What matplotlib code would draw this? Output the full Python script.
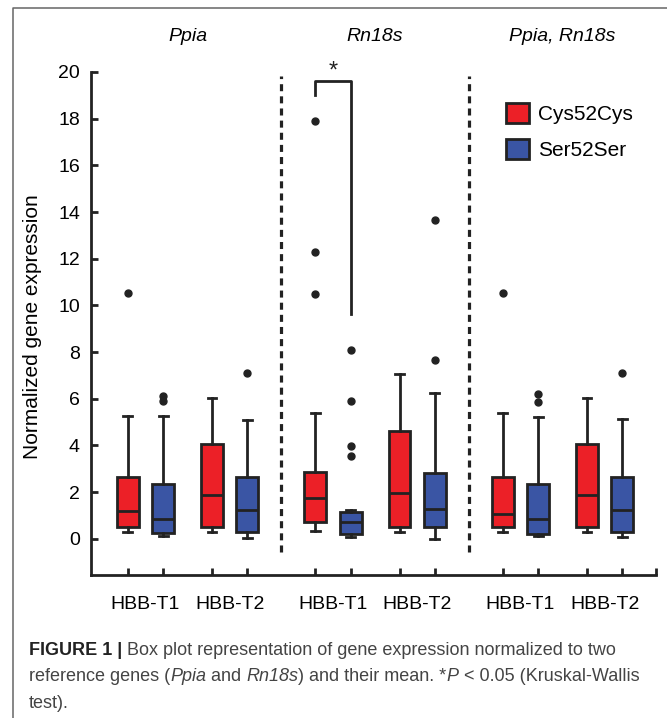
import matplotlib.pyplot as plt
import matplotlib.transforms as mtransforms
from matplotlib.patches import Patch
from matplotlib.lines import Line2D

plt.rcParams['font.family'] = 'Liberation Sans'

panels = ["Ppia", "Rn18s", "Ppia, Rn18s"]
groups = ["HBB-T1", "HBB-T2"]
genotypes = ["Cys52Cys", "Ser52Ser"]
colors = ["#EC2027", "#3A55A4"]

# one value per box, order: panel -> group -> genotype
whislo = [0.29, 0.10, 0.29, 0.04, 0.34, 0.06, 0.29, 0.00, 0.29, 0.13, 0.29, 0.06]
q1 = [0.50, 0.24, 0.50, 0.31, 0.73, 0.21, 0.50, 0.50, 0.49, 0.21, 0.49, 0.31]
med = [1.20, 0.86, 1.87, 1.24, 1.77, 0.70, 1.98, 1.28, 1.07, 0.84, 1.87, 1.24]
q3 = [2.63, 2.34, 4.07, 2.67, 2.88, 1.14, 4.64, 2.84, 2.63, 2.34, 4.07, 2.67]
whishi = [5.27, 5.27, 6.05, 5.10, 5.38, 1.24, 7.07, 6.24, 5.38, 5.21, 6.05, 5.14]
fliers = [[10.55], [6.14, 5.91], [], [7.09],
          [17.9, 12.3, 10.48], [8.11, 5.91, 3.98, 3.53], [], [13.66, 7.67],
          [10.55], [6.21, 5.85], [], [7.09]]

# significance bracket (Rn18s, HBB-T1)
sig_low, sig_top, sig_right = 19.0, 19.63, 9.63

caption = [
    [("FIGURE 1 |", "b"), (" Box plot representation of gene expression normalized to two", "n")],
    [("reference genes (", "n"), ("Ppia", "i"), (" and ", "n"), ("Rn18s", "i"),
     (") and their mean. *", "n"), ("P", "i"), (" < 0.05 (Kruskal-Wallis", "n")],
    [("test).", "n")],
]

pair_pos = [0, 1, 2.38, 3.38]
panel_step = 5.3
positions = [p * panel_step + o for p in range(3) for o in pair_pos]
x_left, x_right = -1.04, 14.93

fig = plt.figure(figsize=(6.67, 7.18), dpi=100)
ax = fig.add_axes([91 / 667, 1 - 575 / 718, 565 / 667, 503 / 718])

stats = []
for i in range(len(med)):
    stats.append(dict(whislo=whislo[i], q1=q1[i], med=med[i], q3=q3[i],
                      whishi=whishi[i], fliers=fliers[i]))

ec = "#222222"
bp = ax.bxp(stats, positions=positions, widths=0.62, capwidths=0.25,
            patch_artist=True, showfliers=True,
            boxprops=dict(linewidth=2, edgecolor=ec),
            medianprops=dict(color=ec, linewidth=2),
            whiskerprops=dict(color=ec, linewidth=2),
            capprops=dict(color=ec, linewidth=2),
            flierprops=dict(marker='o', markerfacecolor=ec, markeredgecolor=ec,
                            markersize=5))
for i, box in enumerate(bp['boxes']):
    box.set_facecolor(colors[i % 2])

ax.set_ylim(-1.55, 20)
ax.set_xlim(x_left, x_right)
ax.spines['top'].set_visible(False)
ax.spines['right'].set_visible(False)
for s in ['left', 'bottom']:
    ax.spines[s].set_linewidth(2)
    ax.spines[s].set_color(ec)

ax.set_yticks(range(0, 21, 2))
ax.tick_params(axis='y', direction='in', length=5, width=2, labelsize=14, pad=8, color=ec)
ax.set_xticks(positions + [x_right])
ax.set_xticklabels([])
centers = []
for p in range(3):
    for g in range(2):
        centers.append((positions[p * 4 + g * 2] + positions[p * 4 + g * 2 + 1]) / 2)
ax.set_xticks(centers, minor=True)
ax.set_xticklabels(groups * 3, minor=True)
ax.tick_params(axis='x', which='major', direction='in', length=5, width=2, color=ec)
ax.tick_params(axis='x', which='minor', length=0, labelsize=14, pad=15)

# dashed separators between panels
for p in range(2):
    xs = (positions[p * 4 + 3] + positions[p * 4 + 4]) / 2
    ax.plot([xs, xs], [-0.57, 19.83], color=ec, lw=2.3, ls=(0, (2.2, 1.6)), clip_on=False)

# significance bracket
xa, xb = positions[4], positions[5]
ax.plot([xa, xa, xb, xb], [sig_low, sig_top, sig_top, sig_right], color=ec, lw=2, clip_on=False)
ax.text((xa + xb) / 2, 19.55, "*", ha='center', va='bottom', fontsize=17, color=ec)

trans = mtransforms.blended_transform_factory(ax.transData, ax.transAxes)
for p in range(3):
    cx = (positions[p * 4] + positions[p * 4 + 3]) / 2
    ax.text(cx, 1.07, panels[p], transform=trans, ha='center', va='center',
            fontsize=14, style='italic')

handles = [Patch(facecolor=colors[i], edgecolor=ec, linewidth=2, label=genotypes[i]) for i in range(2)]
ax.legend(handles=handles, loc='upper left', bbox_to_anchor=(0.734, 0.938), frameon=False,
          fontsize=15, handlelength=1.1, handleheight=1.1, labelspacing=0.72,
          handletextpad=0.43, borderpad=0, borderaxespad=0)

fig.text(33 / 667, 1 - 327 / 718, "Normalized gene expression", rotation=90,
         ha='center', va='center', fontsize=15)

# caption, built piece by piece so italic / bold runs sit on one baseline
cap_color = "#444444"
baselines = [655, 681, 708]
for line, yb in zip(caption, baselines):
    yf = 1 - yb / 718
    prev = None
    for txt, st in line:
        kw = dict(fontsize=13, color=cap_color, va='baseline', ha='left')
        if st == "b":
            kw.update(weight='bold', color="#222222")
        elif st == "i":
            kw.update(style='italic')
        if prev is None:
            prev = fig.text(29 / 667, yf, txt, **kw)
        else:
            prev = ax.annotate(txt, xy=(1, yf), xycoords=(prev, 'figure fraction'),
                               annotation_clip=False, **kw)

# outer frame (top and left edges)
fig.add_artist(Line2D([13 / 667, 13 / 667, 1], [0, 1 - 8 / 718, 1 - 8 / 718],
                      transform=fig.transFigure, color="#666666", lw=1.1))

fig.savefig("out.png", dpi=100)
